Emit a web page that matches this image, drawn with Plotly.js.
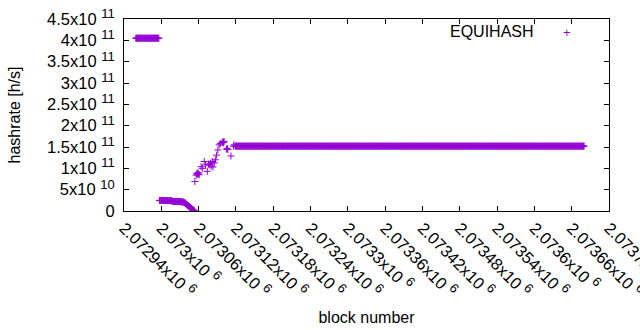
<!DOCTYPE html>
<html>
<head>
<meta charset="utf-8">
<script src="https://cdn.plot.ly/plotly-3.0.1.min.js"></script>
<style>html,body{margin:0;padding:0;background:#fff;}#chart{width:640px;height:330px;}</style>
</head>
<body>
<div id="chart"></div>
<script>
// ---- data (hashrate in units of 1e9 h/s) ----
// consecutive blocks starting at runStart
const runStart = 2072959;
const runGH = [
405,405,405,405,405,405,405,405,405,405,405,405,405,405,405,405,405,405,405,405,
405,405,405,405,405,405,405,405,405,405,405,405,405,405,405,405,405,405,
24.8,24.8,24.7,24.7,24.7,24.6,24.6,24.6,24.5,24.5,24.5,24.5,24.4,24.4,24.4,24.3,24.3,24.3,24.2,24.2,24.1,
22.5,22.4,22.4,22.3,22.3,22.2,22.2,22.2,22.1,22.1,22.0,22.0,21.9,21.8,21.7,21.5,21.3,21.0,20.6,
20.0,19.0,18.0,16.5,15.0,13.6,12.5,11.2,10.2,9.0,8.0,6.6,5.2,4.0,2.7,1.5,0.4
];
// scattered blocks during the recovery
const riseBlocks = [2073054,2073056,2073057,2073058,2073059,2073060,2073061,2073064,2073066,2073069,
  2073071,2073074,2073076,2073077,2073079,2073080,2073082,2073083,2073085,2073087,
  2073089,2073091,2073093,2073095,2073098,2073099,2073100,2073101,2073105,2073106,
  2073107,2073112,2073116,2073117];
const riseGH = [69,84,88,86,90,87,85,104,100,116,
  108,93,110,108,112,105,116,103,113,120,
  131,143,155,158,161,162,160,163,145,147,
  144,129,152,155];
// consecutive blocks starting at flatStart
const flatStart = 2073119;
const flatGH = [
152,152,152,152,152,152,152,152,152,152,152,152,152,152,152,152,152,152,152,152,
152,152,152,152,152,152,152,152,152,152,152,152,152,152,152,152,152,152,152,152,
152,152,152,152,152,152,152,152,152,152,152,152,152,152,152,152,152,152,152,152,
152,152,152,152,152,152,152,152,152,152,152,152,152,152,152,152,152,152,152,152,
152,152,152,152,152,152,152,152,152,152,152,152,152,152,152,152,152,152,152,152,
152,152,152,152,152,152,152,152,152,152,152,152,152,152,152,152,152,152,152,152,
152,152,152,152,152,152,152,152,152,152,152,152,152,152,152,152,152,152,152,152,
152,152,152,152,152,152,152,152,152,152,152,152,152,152,152,152,152,152,152,152,
152,152,152,152,152,152,152,152,152,152,152,152,152,152,152,152,152,152,152,152,
152,152,152,152,152,152,152,152,152,152,152,152,152,152,152,152,152,152,152,152,
152,152,152,152,152,152,152,152,152,152,152,152,152,152,152,152,152,152,152,152,
152,152,152,152,152,152,152,152,152,152,152,152,152,152,152,152,152,152,152,152,
152,152,152,152,152,152,152,152,152,152,152,152,152,152,152,152,152,152,152,152,
152,152,152,152,152,152,152,152,152,152,152,152,152,152,152,152,152,152,152,152,
152,152,152,152,152,152,152,152,152,152,152,152,152,152,152,152,152,152,152,152,
152,152,152,152,152,152,152,152,152,152,152,152,152,152,152,152,152,152,152,152,
152,152,152,152,152,152,152,152,152,152,152,152,152,152,152,152,152,152,152,152,
152,152,152,152,152,152,152,152,152,152,152,152,152,152,152,152,152,152,152,152,
152,152,152,152,152,152,152,152,152,152,152,152,152,152,152,152,152,152,152,152,
152,152,152,152,152,152,152,152,152,152,152,152,152,152,152,152,152,152,152,152,
152,152,152,152,152,152,152,152,152,152,152,152,152,152,152,152,152,152,152,152,
152,152,152,152,152,152,152,152,152,152,152,152,152,152,152,152,152,152,152,152,
152,152,152,152,152,152,152,152,152,152,152,152,152,152,152,152,152,152,152,152,
152,152,152,152,152,152,152,152,152,152,152,152,152,152,152,152,152,152,152,152,
152,152,152,152,152,152,152,152,152,152,152,152,152,152,152,152,152,152,152,152,
152,152,152,152,152,152,152,152,152,152,152,152,152,152,152,152,152,152,152,152,
152,152,152,152,152,152,152,152,152,152,152,152,152,152,152,152,152,152,152,152,
152,152,152,152,152,152,152,152,152,152,152,152,152,152,152,152,152,152,152,152,
152,152
];
const seriesName = 'EQUIHASH';
const xTickVals = [2072940,2073000,2073060,2073120,2073180,2073240,2073300,2073360,2073420,2073480,2073540,2073600,2073660,2073720];
const xTickMant = ['2.07294','2.073','2.07306','2.07312','2.07318','2.07324','2.0733','2.07336','2.07342','2.07348','2.07354','2.0736','2.07366','2.07372'];
const xTickExp = '6';
const yTickVals = [0,5e10,1e11,1.5e11,2e11,2.5e11,3e11,3.5e11,4e11,4.5e11];
const yTickMant = ['0','5','1','1.5','2','2.5','3','3.5','4','4.5'];
const yTickExp = ['','10','11','11','11','11','11','11','11','11'];

// ---- build trace ----
const xs = [], ys = [];
runGH.forEach((v,i)=>{ xs.push(runStart+i); ys.push(v*1e9); });
riseGH.forEach((v,i)=>{ xs.push(riseBlocks[i]); ys.push(v*1e9); });
flatGH.forEach((v,i)=>{ xs.push(flatStart+i); ys.push(v*1e9); });

const sci = (m,e) => e ? m + 'x10 <sup><span style="font-size:13px">' + e + '</span></sup>' : m;
const xTickText = xTickMant.map(m => sci(m, xTickExp));
const yTickText = yTickMant.map((m,i) => sci(m, yTickExp[i]));

const color = '#9400D3';
const fam = '"Liberation Sans", Arial, sans-serif';
const font = {family:fam, size:16, color:'#000'};
const tickFont = {family:fam, size:16.5, color:'#000'};

const trace = {
  type:'scatter', mode:'markers', name:seriesName, x:xs, y:ys, showlegend:false,
  marker:{symbol:'cross-thin-open', size:5, color:color, line:{color:color, width:1}}
};

const axisCommon = {showline:true, linecolor:'#000', linewidth:1, mirror:'ticks', ticks:'inside', ticklen:5, tickcolor:'#000', showgrid:false, zeroline:false, tickfont:tickFont, ticklabeloverflow:'allow'};

const layout = {
  width:640, height:330,
  margin:{l:124, r:31, t:19, b:119, pad:0},
  paper_bgcolor:'#fff', plot_bgcolor:'#fff',
  font:font,
  xaxis:Object.assign({}, axisCommon, {
    range:[2072940, 2073720], tickmode:'array', tickvals:xTickVals, ticktext:xTickText, tickangle:45,
    title:{text:'block number', font:font, standoff:11}
  }),
  yaxis:Object.assign({}, axisCommon, {
    range:[0, 4.5e11], tickmode:'array', tickvals:yTickVals, ticktext:yTickText, ticklabelstandoff:5,
    title:{text:'hashrate [h/s]', font:font, standoff:22}
  }),
  annotations:[
    {xref:'paper', yref:'paper', x:0.849, y:0.934, xanchor:'right', yanchor:'middle', text:seriesName, showarrow:false, font:font},
    {xref:'paper', yref:'paper', x:0.914, y:0.929, xanchor:'center', yanchor:'middle', text:'+', showarrow:false, font:{family:fam, size:13, color:color}}
  ]
};

Plotly.newPlot('chart', [trace], layout, {displayModeBar:false, staticPlot:true});
</script>
</body>
</html>
